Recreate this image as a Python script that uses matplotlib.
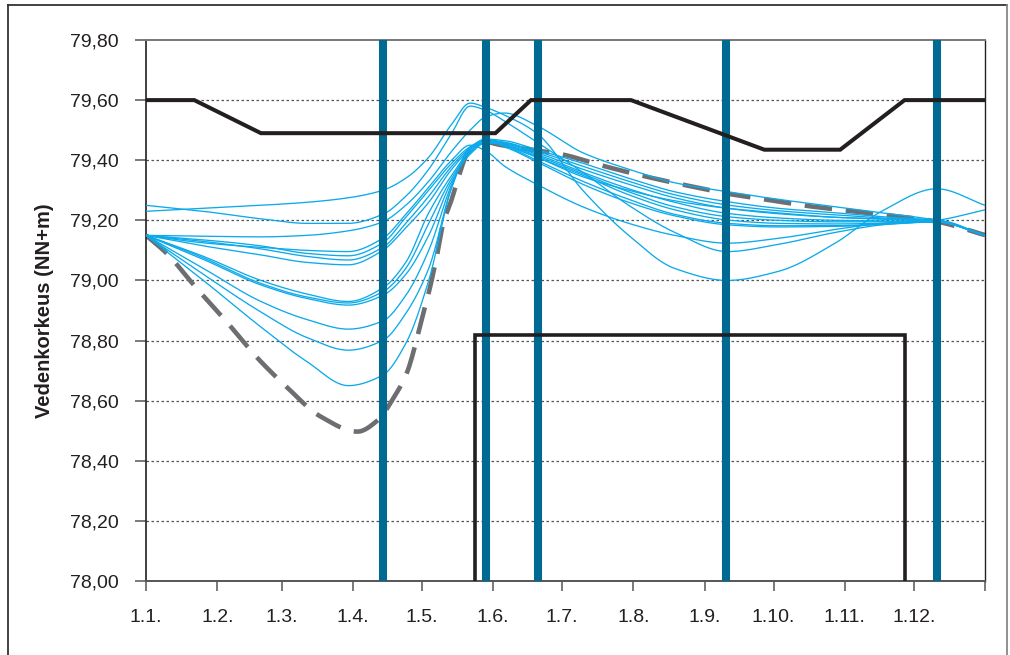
import numpy as np
import matplotlib
matplotlib.use("Agg")
import matplotlib.pyplot as plt
from matplotlib.lines import Line2D

plt.rcParams['font.family'] = ['Liberation Sans', 'DejaVu Sans']

# ---- x axis: day of year (0 = 1 Jan, 365 = 31 Dec end) ----
month_days = [0, 31, 59, 90, 120, 151, 181, 212, 243, 273, 304, 334, 365]
month_labels = ["1.1.", "1.2.", "1.3.", "1.4.", "1.5.", "1.6.", "1.7.",
                "1.8.", "1.9.", "1.10.", "1.11.", "1.12.", ""]

y_ticks = [78.0, 78.2, 78.4, 78.6, 78.8, 79.0, 79.2, 79.4, 79.6, 79.8]

# ---- regulation limits ----
upper_days = [0, 21, 50, 152, 167.5, 211, 269, 302, 330, 365]
upper_vals = [79.60, 79.60, 79.49, 79.49, 79.60, 79.60, 79.435, 79.435, 79.60, 79.60]

box_days = [143, 143, 330, 330]
box_vals = [78.00, 78.82, 78.82, 78.00]

# ---- event dates (vertical bars) ----
event_days = [103, 148, 170.5, 252.3, 344.3]

# ---- reference (grey dashed) water level ----
ref_days = [0, 9, 22, 35, 48, 61, 76, 92, 101, 107.6, 113.4, 120.6, 123.5,
            126.5, 129.3, 133, 136, 140, 146.7, 154, 168.4, 180, 199, 219,
            241, 253.5, 269, 287.6, 309, 334, 344, 365]
ref_vals = [79.15, 79.09, 78.974, 78.863, 78.746, 78.647, 78.547, 78.497,
            78.536, 78.608, 78.691, 78.89, 78.975, 79.08, 79.19, 79.27,
            79.345, 79.425, 79.462, 79.451, 79.434, 79.421, 79.381, 79.343,
            79.307, 79.288, 79.27, 79.248, 79.229, 79.207, 79.196, 79.151]

# ---- simulated water levels (blue), sampled on a shared day grid ----
sim_days = [0, 25, 50, 70, 88, 103, 113, 123, 133, 141, 148, 156, 170, 190,
            210, 230, 253, 275, 300, 320, 344, 365]

sim_b = [79.23, 79.24, 79.25, 79.26, 79.275, 79.30, 79.34, 79.41, 79.52, 79.59,
         79.575, 79.55, 79.49, 79.30, 79.15, 79.04, 79.00, 79.03, 79.125, 79.23,
         79.305, 79.25]
sim_a = [79.25, 79.23, 79.205, 79.19, 79.19, 79.22, 79.28, 79.37, 79.49, 79.58,
         79.565, 79.53, 79.46, 79.36, 79.25, 79.16, 79.096, 79.12, 79.16, 79.185,
         79.20, 79.235]
sim_c = [79.15, 79.147, 79.145, 79.15, 79.165, 79.195, 79.25, 79.33, 79.43, 79.50,
         79.545, 79.557, 79.515, 79.425, 79.37, 79.325, 79.295, 79.27, 79.245,
         79.225, 79.20, 79.15]
sim_m1 = [79.15, 79.125, 79.11, 79.10, 79.096, 79.14, 79.22, 79.31, 79.40, 79.45,
          79.43, 79.38, 79.32, 79.245, 79.19, 79.15, 79.124, 79.14, 79.17, 79.19,
          79.20, 79.15]
sim_m2 = [79.15, 79.135, 79.115, 79.09, 79.082, 79.125, 79.21, 79.30, 79.39,
          79.445, 79.47, 79.465, 79.435, 79.39, 79.34, 79.295, 79.262, 79.24,
          79.225, 79.212, 79.20, 79.15]
sim_m3 = [79.15, 79.13, 79.105, 79.08, 79.068, 79.11, 79.19, 79.28, 79.38, 79.44,
          79.468, 79.46, 79.43, 79.38, 79.33, 79.285, 79.251, 79.232, 79.218,
          79.208, 79.198, 79.15]
sim_m4 = [79.15, 79.115, 79.085, 79.06, 79.052, 79.10, 79.175, 79.26, 79.37,
          79.435, 79.465, 79.458, 79.425, 79.37, 79.32, 79.275, 79.24, 79.222,
          79.21, 79.204, 79.197, 79.15]
sim_l1 = [79.15, 79.08, 79.00, 78.955, 78.93, 78.975, 79.06, 79.225, 79.35, 79.43,
          79.462, 79.455, 79.42, 79.36, 79.305, 79.26, 79.223, 79.208, 79.20,
          79.198, 79.197, 79.15]
sim_l2 = [79.15, 79.075, 78.99, 78.945, 78.925, 78.962, 79.04, 79.19, 79.34,
          79.425, 79.46, 79.452, 79.415, 79.355, 79.295, 79.245, 79.212, 79.20,
          79.195, 79.195, 79.196, 79.15]
sim_l3 = [79.15, 79.07, 78.985, 78.94, 78.918, 78.95, 79.02, 79.15, 79.33, 79.42,
          79.458, 79.45, 79.41, 79.35, 79.285, 79.235, 79.201, 79.19, 79.188,
          79.19, 79.195, 79.15]
sim_p1 = [79.15, 79.04, 78.93, 78.87, 78.838, 78.865, 78.95, 79.10, 79.32, 79.44,
          79.465, 79.448, 79.40, 79.33, 79.27, 79.22, 79.19, 79.182, 79.182,
          79.188, 79.195, 79.15]
sim_p2 = [79.15, 79.02, 78.895, 78.81, 78.768, 78.80, 78.89, 79.04, 79.31, 79.44,
          79.465, 79.445, 79.395, 79.32, 79.26, 79.215, 79.185, 79.178, 79.18,
          79.186, 79.195, 79.15]
sim_p3 = [79.15, 79.00, 78.845, 78.73, 78.65, 78.685, 78.79, 79.00, 79.31, 79.44,
          79.47, 79.45, 79.41, 79.345, 79.30, 79.265, 79.24, 79.225, 79.21,
          79.205, 79.197, 79.15]

simulations = [sim_b, sim_a, sim_c, sim_m1, sim_m2, sim_m3, sim_m4,
               sim_l1, sim_l2, sim_l3, sim_p1, sim_p2, sim_p3]

BLUE = "#0caaea"
BAR = "#006a93"
GREY = "#6d6e71"
BLACK = "#231f20"


def smooth(xs, ys, n=600):
    """Monotone cubic (smoothed line) through the given points."""
    x = np.asarray(xs, float)
    y = np.asarray(ys, float)
    h = np.diff(x)
    delta = np.diff(y) / h
    d = np.zeros_like(y)
    for k in range(1, len(x) - 1):
        if delta[k - 1] * delta[k] > 0:
            w1 = 2 * h[k] + h[k - 1]
            w2 = h[k] + 2 * h[k - 1]
            d[k] = (w1 + w2) / (w1 / delta[k - 1] + w2 / delta[k])
    d[0] = delta[0]
    d[-1] = delta[-1]
    xn = np.linspace(x[0], x[-1], n)
    idx = np.clip(np.searchsorted(x, xn) - 1, 0, len(x) - 2)
    t = (xn - x[idx]) / h[idx]
    h00 = 2 * t**3 - 3 * t**2 + 1
    h10 = t**3 - 2 * t**2 + t
    h01 = -2 * t**3 + 3 * t**2
    h11 = t**3 - t**2
    yn = (h00 * y[idx] + h10 * h[idx] * d[idx] +
          h01 * y[idx + 1] + h11 * h[idx] * d[idx + 1])
    return xn, yn


fig = plt.figure(figsize=(10.10, 6.55), dpi=100)
ax = fig.add_axes([146 / 1010, 1 - 581 / 655, 839 / 1010, 541 / 655])

# dotted horizontal grid
for v in y_ticks[1:-1]:
    ax.axhline(v, color="#555555", lw=0.9, ls=(0, (2, 2)), zorder=1)

# reference level
xr, yr = smooth(ref_days, ref_vals)
ax.plot(xr, yr, color=GREY, lw=3.3, ls=(0, (6, 3)), solid_capstyle="butt",
        zorder=2)

# simulated levels
for series in simulations:
    xs, ys = smooth(sim_days, series)
    ax.plot(xs, ys, color=BLUE, lw=0.95, zorder=3)

# event bars
for d in event_days:
    ax.axvline(d, ymin=0.006, ymax=1.0, color=BAR, lw=5.8, zorder=4)

# regulation limits
ax.plot(upper_days, upper_vals, color=BLACK, lw=2.9, zorder=5,
        solid_joinstyle="miter")
ax.plot(box_days, box_vals, color=BLACK, lw=2.6, zorder=5,
        solid_joinstyle="miter")

ax.set_xlim(0, 365)
ax.set_ylim(78.0, 79.8)
ax.set_xticks(month_days)
ax.set_xticklabels(month_labels, fontsize=14)
ax.set_yticks(y_ticks)
ax.set_yticklabels([f"{v:.2f}".replace(".", ",") for v in y_ticks],
                   fontsize=14)
ax.tick_params(axis="y", direction="out", length=8, width=1.1,
               color="#555555", pad=11.5, labelcolor="#231f20")
ax.tick_params(axis="x", direction="out", length=7, width=1.1,
               color="#555555", pad=13.5, labelcolor="#231f20")

ax.spines["left"].set_color(BLACK)
ax.spines["left"].set_linewidth(1.2)
ax.spines["right"].set_color(BLACK)
ax.spines["right"].set_linewidth(1.0)
ax.spines["top"].set_color("#777777")
ax.spines["top"].set_linewidth(1.4)
ax.spines["bottom"].set_color("#555555")
ax.spines["bottom"].set_linewidth(1.4)

ax.set_ylabel("Vedenkorkeus (NN+m)", fontsize=14.5, fontweight="bold",
              va="center", color="#231f20")
ax.yaxis.set_label_coords(-0.1204, 0.5)

# outer frame (left, top, right)
fw, fh = 1010, 655
frame = [([8 / fw, 8 / fw], [0, 1 - 5 / fh], "#333333"),
         ([8 / fw, 1007 / fw], [1 - 5 / fh, 1 - 5 / fh], "#333333"),
         ([1007 / fw, 1007 / fw], [0, 1 - 5 / fh], "#888888")]
for xs, ys, c in frame:
    fig.add_artist(Line2D(xs, ys, transform=fig.transFigure, color=c, lw=1.3))

fig.savefig("out.png", dpi=100)
